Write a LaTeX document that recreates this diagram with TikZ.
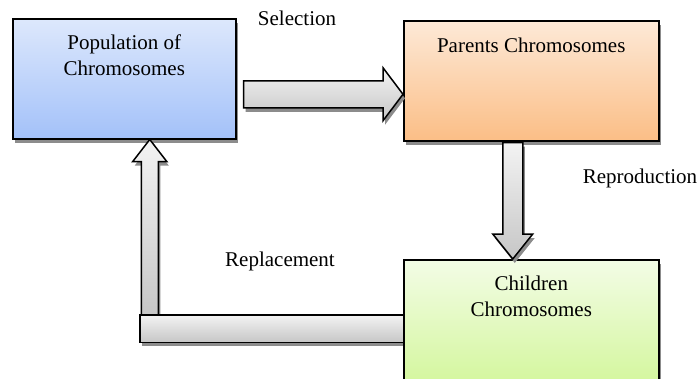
\documentclass[tikz,border=0pt]{standalone}
\usepackage{fontspec}
\setmainfont{Liberation Serif}
\usetikzlibrary{positioning,calc,shadows}

\definecolor{popTop}{RGB}{221,232,252}
\definecolor{popBot}{RGB}{163,193,249}
\definecolor{parTop}{RGB}{253,233,215}
\definecolor{parBot}{RGB}{251,190,134}
\definecolor{chiTop}{RGB}{243,252,230}
\definecolor{chiBot}{RGB}{213,247,160}
\definecolor{arrTop}{RGB}{243,243,243}
\definecolor{arrBot}{RGB}{198,198,198}

\begin{document}
\begin{tikzpicture}[
  x=1pt, y=-1pt,
  every node/.style={font=\fontsize{21}{26}\selectfont, align=center},
  shade/.style={drop shadow={shadow xshift=2pt, shadow yshift=-4pt, opacity=1, fill=black!45}},
  box/.style={draw, line width=1.5pt, minimum width=#1, minimum height=120pt, anchor=north west, inner sep=0pt, shade},
  boxtxt/.style={inner sep=0pt},
  grey/.style={draw, line width=1.5pt, top color=arrTop, bottom color=arrBot, shade},
  bigarrow/.style n args={3}{to path={
    ($(\tikztotarget)!#3!(\tikztostart)$) coordinate (hb)
    ($(\tikztostart)!#1!90:(\tikztotarget)$) -- ($(hb)!#1!90:(\tikztotarget)$)
    -- ($(hb)!#2!90:(\tikztotarget)$) -- (\tikztotarget)
    -- ($(hb)!#2!-90:(\tikztotarget)$) -- ($(hb)!#1!-90:(\tikztotarget)$)
    -- ($(\tikztostart)!#1!-90:(\tikztotarget)$) -- cycle}}
]
\useasboundingbox (0,0) rectangle (698,378);
\clip (0,0) rectangle (698,378);

\node[box=223pt, top color=popTop, bottom color=popBot] (pop) at (12,18) {};
\node[box=255pt, top color=parTop, bottom color=parBot] (par) at (403,20) {};

\coordinate (rplT) at ([xshift=25.5pt]pop.south);
\node[anchor=north west, minimum width=270pt, minimum height=27pt, inner sep=0pt] (rbar) at (140,315) {};
\draw[grey, bigarrow={8.5pt}{17pt}{22pt}] (rbar.north -| rplT) to (rplT);
\draw[grey] (rbar.north west) rectangle (rbar.south east);

\node[box=255pt, top color=chiTop, bottom color=chiBot] (chi) at (403,259) {};

\node[boxtxt, below=16.5pt of pop.north] (popTxt) {Population of\\Chromosomes};
\node[boxtxt, below=17.5pt of par.north] (parTxt) {Parents Chromosomes};
\node[boxtxt, below=16.5pt of chi.north] (chiTxt) {Children\\Chromosomes};

\coordinate (selS) at ([shift={(7,15.5)}]pop.east);
\draw[grey, bigarrow={13.5pt}{26.5pt}{20pt}] (selS) to (par.west |- selS);
\coordinate (repS) at ([shift={(-18.5,1)}]par.south);
\draw[grey, bigarrow={10pt}{20pt}{25pt}] (repS) to (chi.north -| repS);

\node (selLbl) at (297,18) {Selection};
\node (repLbl) at (640,178) {Reproduction};
\node (rplLbl) at (280,261) {Replacement};
\end{tikzpicture}
\end{document}
